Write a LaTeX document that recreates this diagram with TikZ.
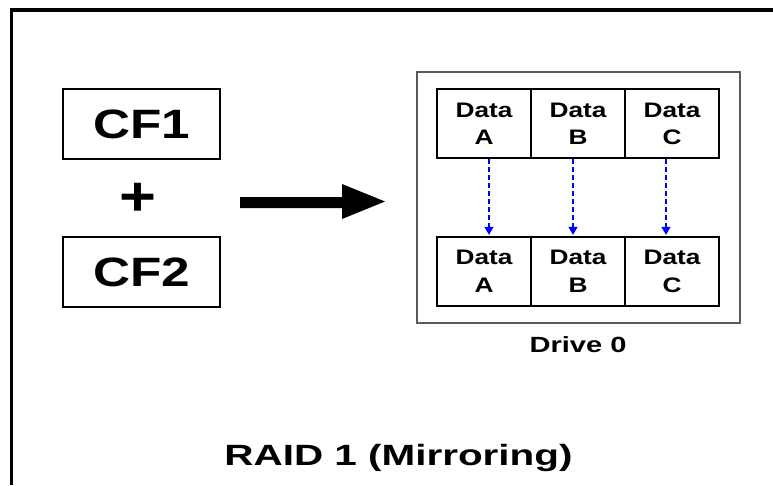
\documentclass[tikz,border=0pt]{standalone}
\usepackage{fontspec}
\setmainfont{Liberation Sans}
\usetikzlibrary{arrows.meta}
\newcommand\cffnt{\fontsize{41}{41}\selectfont\bfseries}
\newcommand\datafnt{\fontsize{21}{27.5}\selectfont\bfseries}
\begin{document}
\begin{tikzpicture}[x=1pt,y=-1pt,
  cfbox/.style={draw=black, line width=2pt, inner sep=0pt, minimum width=157pt, minimum height=70pt, font=\cffnt},
  cell/.style={draw=black, line width=2.3pt, inner sep=0pt, minimum width=94pt, minimum height=69pt, align=center, font=\datafnt},
  copyarrow/.style={draw=blue, line width=1.2pt, dash pattern=on 5pt off 3pt, shorten >=1pt, -{Triangle[width=9pt,length=8pt]}},
  lbl/.style={inner sep=0pt, anchor=base}
]
\useasboundingbox (0,0) rectangle (773,485);
% outer frame (top and left edges)
\draw[line width=3.4pt] (11.7,485) -- (11.7,10) -- (773,10);

% drive enclosure
\node[draw={rgb,255:red,90;green,90;blue,90}, line width=1.3pt, minimum width=323pt, minimum height=251pt, inner sep=0pt] (drive) at (578.5,197.5) {};

% source boxes
\node[cfbox] (cf1) at (141.5,124) {\scalebox{1.25}[1]{CF1}};
\node[cfbox] (cf2) at (141.5,272) {\scalebox{1.25}[1]{CF2}};
\node[inner sep=0pt, font=\fontsize{55}{55}\selectfont\bfseries] (plus) at (138,199) {\scalebox{1.15}[1]{+}};

% big arrow
\fill[black] (240,197) -- (342,197) -- (342,184) -- (385,201.5) -- (342,219) -- (342,208) -- (240,208) -- cycle;

% top row
\node[cell] (tA) at (484,123.7) {\scalebox{1.25}[1]{Data}\\\scalebox{1.25}[1]{A}};
\node[cell] (tB) at (578,123.7) {\scalebox{1.25}[1]{Data}\\\scalebox{1.25}[1]{B}};
\node[cell] (tC) at (672,123.7) {\scalebox{1.25}[1]{Data}\\\scalebox{1.25}[1]{C}};
% bottom row
\node[cell] (bA) at (484,271.5) {\scalebox{1.25}[1]{Data}\\\scalebox{1.25}[1]{A}};
\node[cell] (bB) at (578,271.5) {\scalebox{1.25}[1]{Data}\\\scalebox{1.25}[1]{B}};
\node[cell] (bC) at (672,271.5) {\scalebox{1.25}[1]{Data}\\\scalebox{1.25}[1]{C}};

% mirror arrows
\draw[copyarrow] ([xshift=5pt]tA.south) -- ([xshift=5pt]bA.north);
\draw[copyarrow] ([xshift=-5pt]tB.south) -- ([xshift=-5pt]bB.north);
\draw[copyarrow] ([xshift=-6pt]tC.south) -- ([xshift=-6pt]bC.north);

% labels
\node[lbl] (drvlbl) at (578,352) {\fontsize{22}{22}\selectfont\bfseries\scalebox{1.32}[1]{Drive 0}};
\node[lbl] (title) at (398.5,465) {\fontsize{29.3}{30}\selectfont\bfseries\scalebox{1.38}[1]{RAID 1 (Mirroring)}};
\end{tikzpicture}
\end{document}
